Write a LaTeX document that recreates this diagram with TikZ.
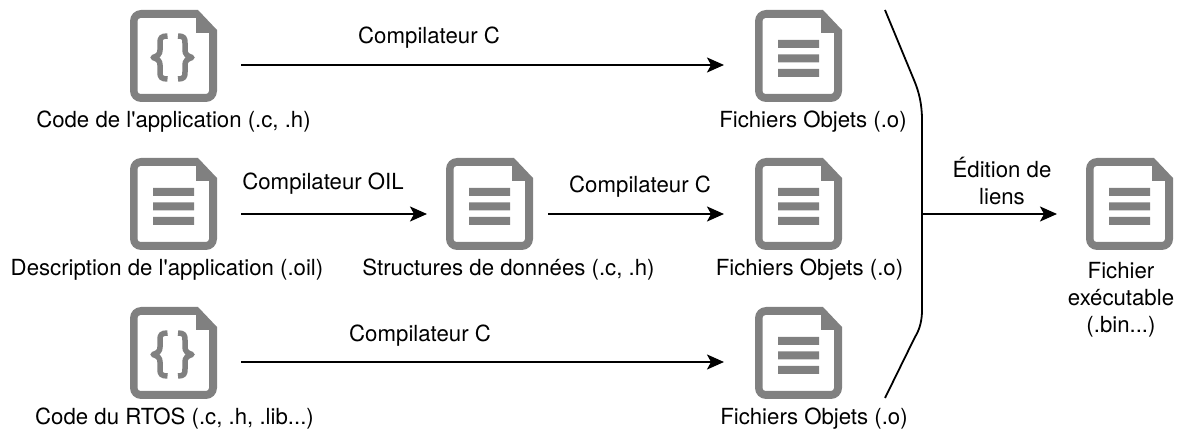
\documentclass[tikz,border=0pt]{standalone}
\usepackage{fontspec}
\setmainfont[Ligatures=TeXOff]{TeX Gyre Heros}
\usetikzlibrary{arrows.meta}
\definecolor{icongrey}{HTML}{808080}
\newcommand{\iconfile}{%
    \fill[icongrey,even odd rule]
      [rounded corners=11pt] (0,46) -- (0,0) -- (40,0) [sharp corners] -- (68,0) -- (87,20) -- (87,50) [rounded corners=11pt] -- (87,92) -- (0,92) -- cycle
      [rounded corners=3pt] (7.5,46) -- (7.5,8) -- (40,8) [sharp corners] -- (66,8) -- (66,23) -- (79,23) -- (79,50) [rounded corners=3pt] -- (79,84) -- (7.5,84) -- cycle;
}
\newcommand{\iconlines}{%
    \fill[icongrey] (23,30) rectangle (64,38) (23,44.5) rectangle (64,52.5) (23,59) rectangle (64,67);
}
\newcommand{\iconbraces}{%
    \draw[icongrey,line width=5.5pt,line join=round]
      (37.5,26) .. controls (31,26) and (30,28) .. (30,33) -- (30,40) .. controls (30,44) and (28,46) .. (23,47.5)
      .. controls (28,49) and (30,51) .. (30,55) -- (30,62) .. controls (30,67) and (31,69) .. (37.5,69);
    \draw[icongrey,line width=5.5pt,line join=round]
      (48,26) .. controls (54,26) and (55,28) .. (55,33) -- (55,40) .. controls (55,44) and (57,46) .. (62,47.5)
      .. controls (57,49) and (55,51) .. (55,55) -- (55,62) .. controls (55,67) and (54,69) .. (48,69);
}
\newcommand{\docicon}[3]{% name, position, glyph
  \node[iconbox] (#1) at (#2) {};
  \begin{scope}[shift={(#2)}]\iconfile #3\end{scope}
}
\tikzset{
  x=1pt,y=-1pt,
  iconbox/.style={minimum width=87pt,minimum height=92pt,inner sep=0pt,outer sep=0pt,anchor=north west},
  lab/.style={font=\fontsize{22.2pt}{27pt}\selectfont,align=center,inner sep=0pt,text=black,anchor=center},
  flow/.style={line width=1.8pt,draw=black,-{Stealth[length=17pt,width=15pt,inset=4pt]}},
  bracket/.style={line width=1.8pt,draw=black},
}
\begin{document}
\begin{tikzpicture}
\useasboundingbox (0,0) rectangle (1179,430);
% icons
\docicon{codeapp}{130,10}{\iconbraces}
\docicon{obja}{755,10}{\iconlines}
\docicon{oil}{130,158}{\iconlines}
\docicon{struct}{446,158}{\iconlines}
\docicon{objb}{755,158}{\iconlines}
\docicon{rtos}{130,307}{\iconbraces}
\docicon{objc}{755,307}{\iconlines}
\docicon{exe}{1086,158}{\iconlines}
% labels
\node[lab] (t1) at (173.5,121.5) {Code de l'application (.c, .h)};
\node[lab] (t2) at (813,121.5) {Fichiers Objets (.o)};
\node[lab] (t3) at (167,270) {Description de l'application (.oil)};
\node[lab] (t4) at (508.5,270) {Structures de données (.c, .h)};
\node[lab] (t5) at (809.5,270) {Fichiers Objets (.o)};
\node[lab] (t6) at (174.5,418.5) {Code du RTOS (.c, .h, .lib...)};
\node[lab] (t7) at (814,418.5) {Fichiers Objets (.o)};
\node[lab] (t8) at (1121,299.5) {Fichier\\exécutable\\(.bin...)};
\node[lab] (e1) at (429,38) {Compilateur C};
\node[lab] (e2) at (323,184) {Compilateur OIL};
\node[lab] (e3) at (640,187) {Compilateur C};
\node[lab] (e4) at (420,336) {Compilateur C};
\node[lab] (e5) at (1002,181.5) {Édition de\\liens};
% connectors
\draw[flow] ([xshift=24pt,yshift=-9pt]codeapp.east) -- ([xshift=-31pt,yshift=-9pt]obja.west);
\draw[flow] ([xshift=24pt,yshift=-10pt]oil.east) -- ([xshift=-19pt,yshift=-10pt]struct.west);
\draw[flow] ([xshift=15pt,yshift=-10pt]struct.east) -- ([xshift=-31pt,yshift=-10pt]objb.west);
\draw[flow] ([xshift=24pt,yshift=-9pt]rtos.east) -- ([xshift=-31pt,yshift=-9pt]objc.west);
% bracket
\draw[bracket] (885,10) -- (914,80) .. controls (919,92) and (922,104) .. (922,120) -- (922,310)
  .. controls (922,320) and (920,329) .. (915,337) -- (885,398);
\coordinate (join) at (922,214);
\draw[flow] (join) -- ([xshift=-29pt,yshift=-10pt]exe.west);
\end{tikzpicture}
\end{document}
